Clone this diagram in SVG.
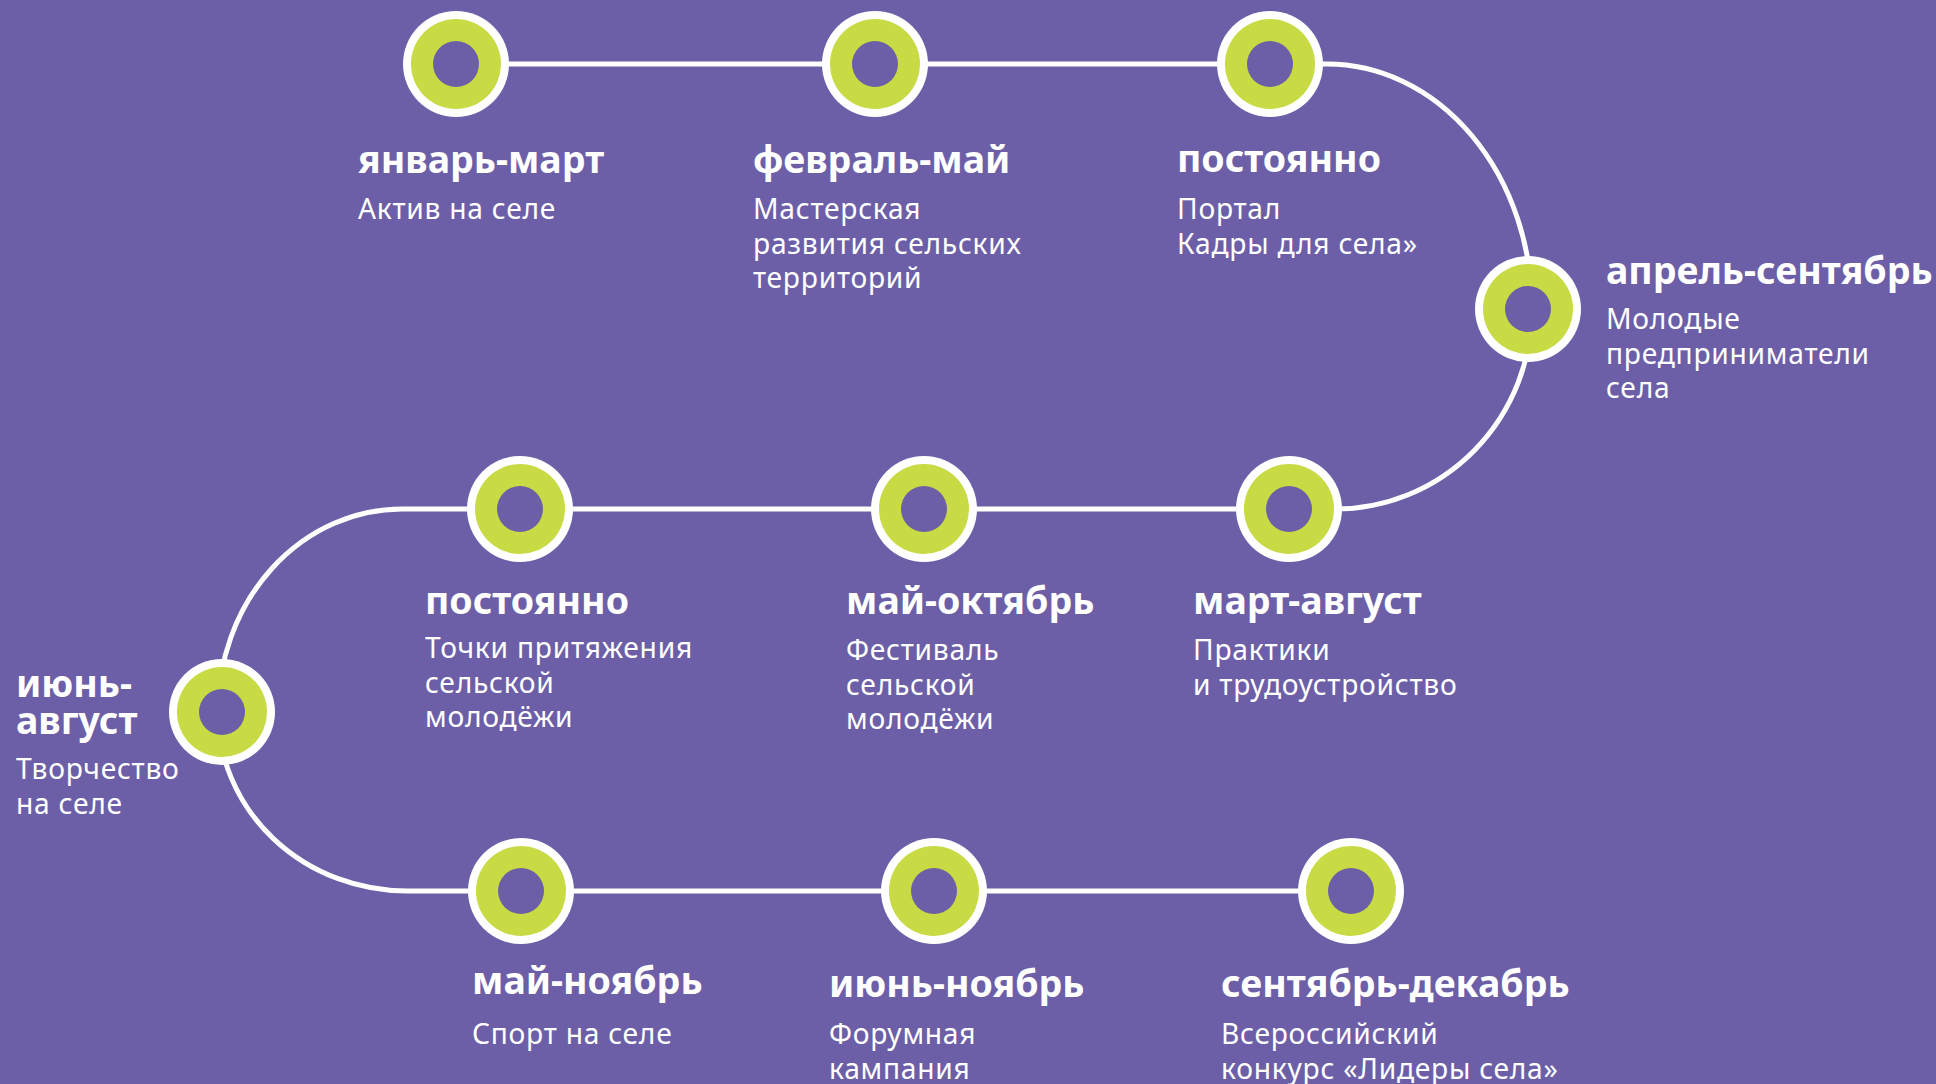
<svg xmlns="http://www.w3.org/2000/svg" width="1936" height="1084" viewBox="0 0 1936 1084">
<style>
.bg{fill:#6c5fa7}
.line{fill:none;stroke:#ffffff;stroke-width:5}
.ring{fill:#ffffff}
.green{fill:#c8da44}
.hole{fill:#6c5fa7}
.h{font-family:"Noto Sans","Open Sans",sans-serif;font-weight:700;font-size:37.5px;fill:#ffffff}
.t{font-family:"Noto Sans","Open Sans",sans-serif;font-weight:400;font-size:28.2px;letter-spacing:0.75px;fill:#ffffff}
</style>
<defs>
<g id="dot">
<circle r="53" class="ring"/>
<circle r="45" class="green"/>
<circle r="23" class="hole"/>
</g>
</defs>
<rect class="bg" x="0" y="0" width="1936" height="1084"/>
<g id="connectors">
<path class="line" d="M456 64 H1327 A205 245 0 0 1 1532 309 A197 200 0 0 1 1335 509 H402 A184 203 0 0 0 218 712 A189 179 0 0 0 407 891 H1351"/>
</g>
<g id="node1">
<use href="#dot" x="456" y="64"/>
<text class="h" x="358" y="173">январь-март</text>
<text class="t" x="358" y="219">Актив на селе</text>
</g>
<g id="node2">
<use href="#dot" x="875" y="64"/>
<text class="h" x="753" y="173">февраль-май</text>
<text class="t" x="753" y="219">Мастерская<tspan x="753" dy="34.5">развития сельских</tspan><tspan x="753" dy="34.5">территорий</tspan></text>
</g>
<g id="node3">
<use href="#dot" x="1270" y="64"/>
<text class="h" x="1177" y="172">постоянно</text>
<text class="t" x="1177" y="219">Портал<tspan x="1177" dy="34.5">Кадры для села»</tspan></text>
</g>
<g id="node4">
<use href="#dot" x="1528" y="309"/>
<text class="h" x="1606" y="284">апрель-сентябрь</text>
<text class="t" x="1606" y="329">Молодые<tspan x="1606" dy="34.5">предприниматели</tspan><tspan x="1606" dy="34.5">села</tspan></text>
</g>
<g id="node5">
<use href="#dot" x="1289" y="509"/>
<text class="h" x="1193" y="614">март-август</text>
<text class="t" x="1193" y="660">Практики<tspan x="1193" dy="34.5">и трудоустройство</tspan></text>
</g>
<g id="node6">
<use href="#dot" x="924" y="509"/>
<text class="h" x="846" y="614">май-октябрь</text>
<text class="t" x="846" y="660">Фестиваль<tspan x="846" dy="34.5">сельской</tspan><tspan x="846" dy="34.5">молодёжи</tspan></text>
</g>
<g id="node7">
<use href="#dot" x="520" y="509"/>
<text class="h" x="425" y="614">постоянно</text>
<text class="t" x="425" y="658">Точки притяжения<tspan x="425" dy="34.5">сельской</tspan><tspan x="425" dy="34.5">молодёжи</tspan></text>
</g>
<g id="node8">
<use href="#dot" x="222" y="712"/>
<text class="h" x="16" y="697">июнь-<tspan x="16" dy="37">август</tspan></text>
<text class="t" x="16" y="779">Творчество<tspan x="16" dy="34.5">на селе</tspan></text>
</g>
<g id="node9">
<use href="#dot" x="521" y="891"/>
<text class="h" x="472" y="994">май-ноябрь</text>
<text class="t" x="472" y="1044">Спорт на селе</text>
</g>
<g id="node10">
<use href="#dot" x="934" y="891"/>
<text class="h" x="829" y="997">июнь-ноябрь</text>
<text class="t" x="829" y="1044">Форумная<tspan x="829" dy="34.5">кампания</tspan></text>
</g>
<g id="node11">
<use href="#dot" x="1351" y="891"/>
<text class="h" x="1221" y="997">сентябрь-декабрь</text>
<text class="t" x="1221" y="1044">Всероссийский<tspan x="1221" dy="34.5">конкурс «Лидеры села»</tspan></text>
</g>
</svg>
